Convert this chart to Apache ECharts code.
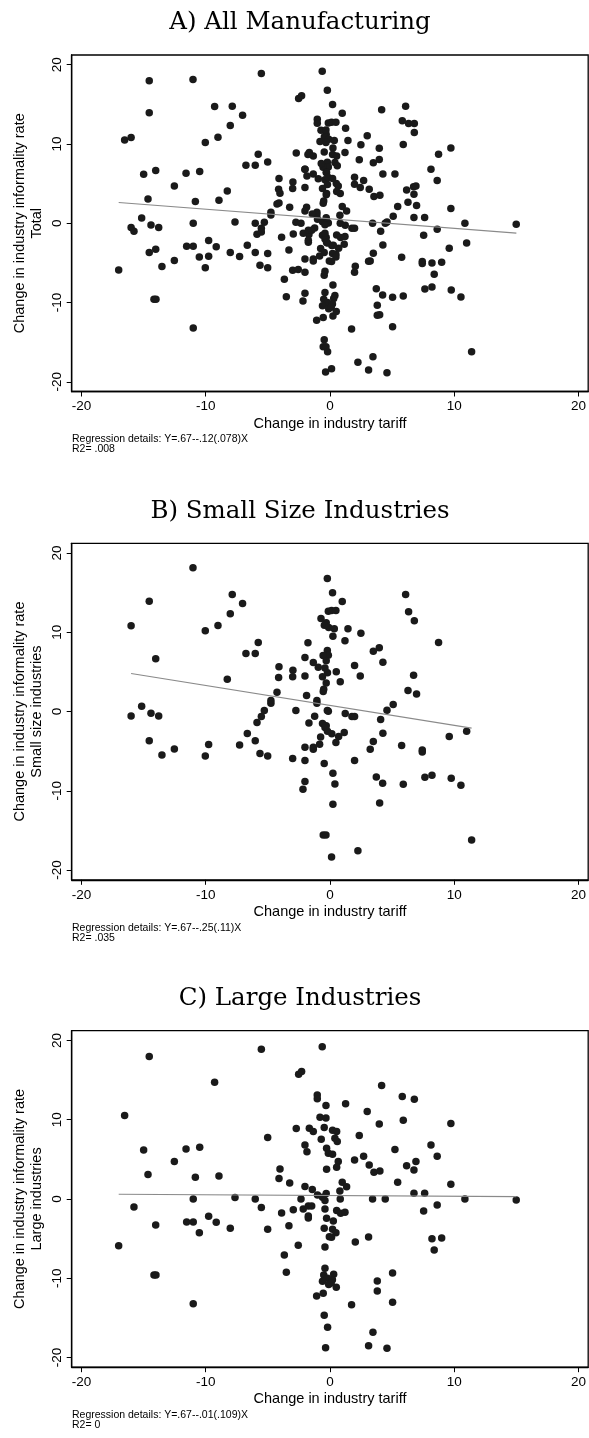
<!DOCTYPE html>
<html><head><meta charset="utf-8">
<script src="https://cdn.jsdelivr.net/npm/echarts@6/dist/echarts.min.js"></script>
<style>html,body{margin:0;padding:0;background:#fff}#c{width:589px;height:1438px}</style>
</head><body><div id="c"></div>
<script>
// Panel B: small size industries (x = change in tariff, y = change in informality)
const smallPts = [
[-11.02,18.14],[-14.54,13.93],[-16.0,10.82],[-7.86,14.77],[-7.03,13.64],[-8.02,12.33],[-9.01,10.86],[-10.03,10.19],[-14.02,6.65],[-5.77,8.71],[-6.76,7.32],[-6.01,7.32],[-4.10,5.64],[-2.98,5.22],[-4.13,4.29],[-3.0,4.38],[-2.01,4.50],[-1.77,8.67],[-2.01,6.82],[-8.26,4.08],[-4.26,2.44],[-1.88,2.02],[-0.21,16.79],[-0.72,11.74],[-0.13,12.66],
[0.21,14.98],[0.99,13.89],[0.13,12.75],[0.48,12.75],[-0.3,11.2],[-0.45,10.9],[-0.1,10.6],[0.35,10.45],[1.45,10.44],[2.49,9.89],[0.24,9.51],[1.21,8.92],[6.09,14.77],[6.33,12.58],[6.79,11.45],[8.74,8.71],[3.97,8.04],[3.49,7.62],[4.26,6.23],[1.98,5.81],[2.44,4.50],[6.73,4.59],[0.51,5.01],[0.83,3.75],[-0.21,7.70],[-0.13,7.1],[-0.55,7.07],[-0.94,5.6],[-1.34,6.2],[-0.3,6.4],[-0.4,5.5],[-0.2,4.9],[-0.6,4.4],[-0.3,3.6],[-0.5,2.8],[6.28,2.65],[6.97,2.23],
[5.09,0.88],[4.59,0.17],[4.08,-1.01],[-0.13,0.04],[1.23,-0.25],[1.77,-0.63],[1.98,-0.63],[-0.6,-1.5],[-0.4,-2.0],[-0.2,-2.5],[0.15,-2.8],[-0.3,-1.8],[1.15,-2.65],[0.70,-3.16],[0.48,-3.91],[4.26,-2.74],[3.49,-3.79],[3.24,-4.76],[5.77,-4.29],[7.43,-4.84],[7.43,-5.09],[9.60,-3.16],[11.0,-2.48],[1.98,-6.19],[-0.46,-6.57],[0.24,-7.79],[0.40,-9.13],[3.73,-8.25],[4.24,-9.05],[5.90,-9.18],[7.64,-8.29],[8.21,-8.04],[9.76,-8.42],[10.54,-9.30],[0.24,-11.70],[4.0,-11.53],[-0.54,-15.57],[-0.32,-15.57],[11.4,-16.2],[2.25,-17.55],[0.13,-18.35],
[-16.0,-0.55],[-15.15,0.67],[-14.4,-0.21],[-13.78,-0.55],[-14.54,-3.70],[-13.52,-5.47],[-12.52,-4.71],[-10.03,-5.6],[-9.76,-4.17],[-7.27,-4.21],[-6.65,-2.78],[-6.01,-3.70],[-5.63,-5.30],[-5.01,-5.6],[-5.87,-1.39],[-5.52,-0.63],[-5.28,0.13],[-4.75,1.05],[-4.75,1.39],[-1.05,1.05],[-1.05,1.39],[-0.54,2.53],[-2.74,0.13],[-0.21,0.13],[-1.23,-0.59],[-1.69,-1.43],[-0.75,-3.2],[-0.83,-4.13],[-1.34,-4.5],[-1.34,-4.76],[-2.01,-4.5],[-3.0,-5.93],[-2.01,-6.19],[-2.01,-8.84],[-2.17,-9.81]
];
// Panel C: large industries
const largePts = [
[-14.54,17.97],[-5.52,18.9],[-0.62,19.19],[-9.28,14.73],[-2.52,15.74],[-2.28,16.08],[-16.52,10.52],[-1.02,13.13],[-1.02,12.63],[-0.32,11.78],[-0.8,10.3],[-0.32,10.2],[-2.71,8.88],[-1.66,8.93],[-1.34,8.5],[-0.46,9.0],[-0.7,7.54],[-5.01,7.74],[-2.01,6.82],[-1.85,5.97],[-0.27,6.4],[-0.13,5.77],[-14.99,6.19],[-11.58,6.31],[-10.48,6.52],[-12.52,4.71],
[4.16,14.31],[5.82,12.92],[6.79,12.58],[1.26,12.0],[3.0,11.03],[3.97,9.47],[5.9,9.93],[9.73,9.51],[0.21,8.67],[0.54,8.5],[0.4,7.66],[0.59,7.24],[2.36,8.0],[0.21,5.64],[5.23,6.23],[8.13,6.82],[8.63,5.39],[1.98,4.92],[2.71,5.39],[0.67,4.71],[6.92,4.71],[6.17,4.2],[3.16,4.29],
[-14.64,3.07],[-10.83,2.74],[-8.93,2.90],[-4.02,3.79],[-4.10,2.57],[-3.24,2.02],[-2.01,1.56],[-1.42,1.18],[-0.27,3.75],[-15.77,-1.01],[-11.0,0.0],[-7.64,0.17],[-6.01,0.0],[-5.52,-1.09],[-2.33,0.0],[-1.0,0.5],[-0.6,0.2],[-0.3,0.7],[-0.4,-0.2],[-3.89,-1.77],[-2.95,-1.35],[-2.15,-1.26],[-1.74,-0.88],[-1.47,-0.88],[-1.74,-2.40],[-1.74,-2.15],[-0.4,-1.26],[-0.27,-2.44],[-14.02,-3.28],[-11.53,-2.90],[-11.0,-2.90],[-10.51,-4.25],[-9.76,-2.19],[-9.15,-2.95],[-8.02,-3.70],[-5.01,-3.83],[-3.30,-3.37],[-0.46,-3.70],[-0.05,-4.76],[-17.0,-5.89],[-2.55,-5.85],[-0.4,-6.06],[-3.67,-7.07],[-3.51,-9.26],[-14.16,-9.6],[-14.0,-9.6],[-0.4,-8.75],[-0.5,-9.6],[-0.2,-10.0],[-0.6,-10.4],[-0.1,-10.8],[-1.07,-12.25],[-0.54,-11.9],[-11.0,-13.22],[-0.46,-14.69],[-0.19,-16.2],[-0.35,-18.77],
[0.54,4.0],[3.54,3.37],[4.02,3.54],[6.76,3.66],[5.45,2.11],[9.73,1.85],[0.99,2.11],[1.34,1.55],[0.8,1.01],[0.83,0],[3.43,0],[4.45,0],[6.76,0.72],[7.62,0.72],[10.86,0],[14.99,-0.13],[8.63,-0.76],[7.54,-1.52],[0.54,-1.47],[0.86,-1.81],[1.21,-1.68],[0.27,-2.78],[0.21,-3.83],[0.48,-4.25],[0.13,-4.84],[3.11,-4.8],[2.04,-5.43],[8.21,-5.01],[8.99,-4.92],[8.39,-6.44],[0.3,-9.5],[0.2,-10.2],[0.1,-10.6],[0.51,-11.15],[5.04,-9.34],[3.81,-10.35],[3.81,-11.62],[1.74,-13.34],[5.04,-13.05],[3.46,-16.83],[3.11,-18.52],[4.59,-18.85]
];
// Panel A: all manufacturing = both groups
const allPts = smallPts.concat(largePts);

// fitted lines (endpoints)
const fitA = [[-17.0,2.62],[15.0,-1.24]];
const fitB = [[-16.0,4.80],[11.4,-2.10]];
const fitC = [[-17.0,0.59],[15.0,0.29]];

const panelTitles = ["A) All Manufacturing","B) Small Size Industries","C) Large Industries"];
const yTitles2 = ["Total","Small size industries","Large industries"];
const regText = ["Regression details: Y=.67--.12(.078)X","Regression details: Y=.67--.25(.11)X","Regression details: Y=.67--.01(.109)X"];
const r2Text = ["R2= .008","R2= .035","R2= 0"];
const tickVals = [-20,-10,0,10,20];

const tops = [55, 543.3, 1030.7];
const plotH = 336.5;
const plotLeft = 71.7, plotRight = 588.3;
const sans = "'Liberation Sans', Arial, sans-serif";

const grids=[], xAxes=[], yAxes=[], series=[], graphics=[];
const dataSets=[allPts, smallPts, largePts];
const fits=[fitA, fitB, fitC];
for(let i=0;i<3;i++){
  const t=tops[i];
  grids.push({left:plotLeft, top:t, width:plotRight-plotLeft, height:plotH, show:true, borderColor:'#000', borderWidth:1.3, containLabel:false});
  xAxes.push({type:'value', gridIndex:i, min:-20.78, max:20.78,
    axisLine:{show:true, onZero:false, lineStyle:{color:'#000', width:1.3}},
    axisTick:{show:true, length:5, customValues:tickVals, lineStyle:{color:'#000'}},
    axisLabel:{customValues:tickVals, margin:8, fontSize:13.5, color:'#000', fontFamily:sans},
    splitLine:{show:false}});
  yAxes.push({type:'value', gridIndex:i, min:-21.23, max:21.23,
    axisLine:{show:true, onZero:false, lineStyle:{color:'#000', width:1.3}},
    axisTick:{show:true, length:5, customValues:tickVals, lineStyle:{color:'#000'}},
    axisLabel:{customValues:tickVals, rotate:90, margin:7, fontSize:13.5, color:'#000', fontFamily:sans},
    splitLine:{show:false}});
  series.push({type:'scatter', xAxisIndex:i, yAxisIndex:i, data:dataSets[i], symbol:'circle', symbolSize:7.5,
    itemStyle:{color:'#1a1a1a', opacity:1, borderWidth:0}, z:3});
  series.push({type:'line', xAxisIndex:i, yAxisIndex:i, data:fits[i], symbol:'none',
    lineStyle:{color:'#8a8a8a', width:1.2}, z:4});
  const b=t+plotH;
  const cy=t+plotH/2;
  graphics.push({type:'text', x:300, y:t-32, style:{text:panelTitles[i], font:"24.5px 'DejaVu Serif', 'Liberation Serif', serif", fill:'#000', textAlign:'center', textVerticalAlign:'middle'}});
  graphics.push({type:'text', x:330, y:b+32, style:{text:'Change in industry tariff', font:"14.5px "+sans, fill:'#000', textAlign:'center', textVerticalAlign:'middle'}});
  graphics.push({type:'text', x:72, y:b+48, style:{text:regText[i], font:"10.5px "+sans, fill:'#000', textAlign:'left', textVerticalAlign:'middle'}});
  graphics.push({type:'text', x:72, y:b+58, style:{text:r2Text[i], font:"10.5px "+sans, fill:'#000', textAlign:'left', textVerticalAlign:'middle'}});
  graphics.push({type:'text', x:20, y:cy, rotation:Math.PI/2, style:{text:'Change in industry informality rate', font:"14.5px "+sans, fill:'#000', textAlign:'center', textVerticalAlign:'middle'}});
  graphics.push({type:'text', x:36.5, y:cy, rotation:Math.PI/2, style:{text:yTitles2[i], font:"14.5px "+sans, fill:'#000', textAlign:'center', textVerticalAlign:'middle'}});
}
const chart=echarts.init(document.getElementById('c'), null, {renderer:'canvas'});
chart.setOption({animation:false, backgroundColor:'#fff', grid:grids, xAxis:xAxes, yAxis:yAxes, series:series, graphic:graphics});
</script></body></html>
